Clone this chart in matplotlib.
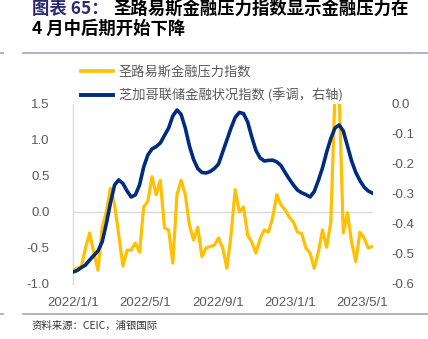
import matplotlib
matplotlib.use("Agg")
import matplotlib.pyplot as plt
from matplotlib.lines import Line2D
import pandas as pd

plt.rcParams['font.family'] = ['Liberation Sans', 'Noto Sans CJK SC', 'DejaVu Sans']

# ---- data ----
start_date = '2021-12-31'
stlfsi = [-0.81, -0.78, -0.76, -0.50, -0.29, -0.56, -0.81, -0.22, 0.00, 0.33,
          0.10, -0.32, -0.75, -0.53, -0.53, -0.43, -0.56, 0.07, 0.15, 0.49,
          0.24, 0.44, -0.22, -0.25, -0.71, 0.24, 0.44, 0.24, -0.18, -0.39,
          -0.21, -0.62, -0.50, -0.48, -0.46, -0.36, -0.50, -0.78, -0.32, 0.31,
          0.00, 0.07, -0.32, -0.42, -0.57, -0.37, -0.25, -0.28, -0.08, 0.24,
          0.10, 0.03, -0.07, -0.14, -0.28, -0.30, -0.50, -0.57, -0.78, -0.56,
          -0.25, -0.49, -0.14, 1.65, 1.65, -0.29, -0.01, -0.42, -0.69, -0.28,
          -0.36, -0.50, -0.48]
nfci = [-0.560, -0.555, -0.545, -0.537, -0.520, -0.505, -0.490, -0.460, -0.400, -0.330,
        -0.270, -0.253, -0.265, -0.290, -0.310, -0.303, -0.270, -0.210, -0.170, -0.150,
        -0.142, -0.130, -0.105, -0.080, -0.040, -0.020, -0.035, -0.080, -0.140, -0.185,
        -0.215, -0.228, -0.230, -0.225, -0.215, -0.200, -0.160, -0.120, -0.080, -0.045,
        -0.028, -0.032, -0.060, -0.110, -0.155, -0.180, -0.190, -0.188, -0.187, -0.193,
        -0.205, -0.228, -0.250, -0.270, -0.287, -0.296, -0.302, -0.310, -0.292, -0.255,
        -0.213, -0.160, -0.115, -0.080, -0.070, -0.090, -0.140, -0.190, -0.228, -0.255,
        -0.277, -0.290, -0.297]
dates = pd.date_range(start_date, periods=len(stlfsi), freq='7D')

xtick_dates = ['2022-01-01', '2022-05-01', '2022-09-01', '2023-01-01', '2023-05-01']
xtick_labels = ['2022/1/1', '2022/5/1', '2022/9/1', '2023/1/1', '2023/5/1']
left_ticks = [-1.0, -0.5, 0.0, 0.5, 1.0, 1.5]
right_ticks = [0.0, -0.1, -0.2, -0.3, -0.4, -0.5, -0.6]

label_yellow = '圣路易斯金融压力指数'
label_blue = '芝加哥联储金融状况指数 (季调，右轴)'

YELLOW = '#FFC000'
BLUE = '#002C7F'
GRAY = '#595959'

W, H = 428, 339
fig = plt.figure(figsize=(W / 100, H / 100), dpi=100)
ax = fig.add_axes([73 / W, 1 - 284 / H, 300 / W, 180 / H])
ax2 = ax.twinx()

ax.plot(dates, stlfsi, color=YELLOW, lw=2.3, solid_joinstyle='round', zorder=3)
ax2.plot(dates, nfci, color=BLUE, lw=2.6, solid_joinstyle='round', zorder=4)

ax.set_ylim(-1.0, 1.5)
ax2.set_ylim(-0.6, 0.0)
ax.set_xlim(pd.Timestamp('2021-12-31'), pd.Timestamp('2023-05-20'))

ax.set_yticks(left_ticks)
ax.set_yticklabels([f'{v:.1f}' for v in left_ticks])
ax2.set_yticks(right_ticks)
ax2.set_yticklabels([f'{v:.1f}' for v in right_ticks])
ax.set_xticks([pd.Timestamp(d) for d in xtick_dates])
ax.set_xticklabels(xtick_labels)

ax.tick_params(axis='y', length=0, pad=17, labelsize=9.5, labelcolor=GRAY)
ax.tick_params(axis='x', length=0, pad=9, labelsize=9.5, labelcolor=GRAY)
ax2.tick_params(axis='y', length=0, pad=13, labelsize=9.5, labelcolor=GRAY)

for a in (ax, ax2):
    for s in ('top', 'right', 'bottom'):
        a.spines[s].set_visible(False)
ax2.spines['left'].set_visible(False)
ax.spines['left'].set_color('#D9D9D9')
ax.spines['left'].set_linewidth(1.0)
ax.axhline(0, color='#D9D9D9', lw=1.0, zorder=1)

# legend
handles = [Line2D([], [], color=YELLOW, lw=2.6), Line2D([], [], color=BLUE, lw=2.8)]
leg = fig.legend(handles, [label_yellow, label_blue], loc='upper left',
                 bbox_to_anchor=(81 / W, 1 - 66 / H), frameon=False,
                 borderpad=0, borderaxespad=0, handlelength=2.4, handletextpad=0.45,
                 labelspacing=0.72, prop={'family': ['Noto Sans CJK SC', 'DejaVu Sans'], 'size': 9.5})
for t in leg.get_texts():
    t.set_color(GRAY)

# title
title_font = ['Noto Sans CJK SC', 'DejaVu Sans']
fig.text(32 / W, 1 - 9 / H, '图表 65：', color='#2B2A73', fontsize=12.5,
         fontweight='bold', family=title_font, va='center', ha='left')
fig.text(113 / W, 1 - 9 / H, '圣路易斯金融压力指数显示金融压力在', color='black',
         fontsize=12.5, fontweight='bold', family=title_font, va='center', ha='left')
fig.text(32 / W, 1 - 29 / H, '4 月中后期开始下降', color='black', fontsize=12.5,
         fontweight='bold', family=title_font, va='center', ha='left')

# rules
RULE = '#ABA8CB'
for (x0, x1, y) in [(0, 3, 53), (23, 413, 53), (415, 428, 53), (0, 3, 314), (23, 428, 314)]:
    fig.add_artist(Line2D([x0 / W, x1 / W], [1 - y / H, 1 - y / H], color=RULE, lw=1.3))

# footer
fig.text(32 / W, 1 - 326 / H, '资料来源：CEIC，浦银国际', color='#333333', fontsize=7.5,
         family=title_font, va='center', ha='left')

fig.savefig('out.png', dpi=100)
